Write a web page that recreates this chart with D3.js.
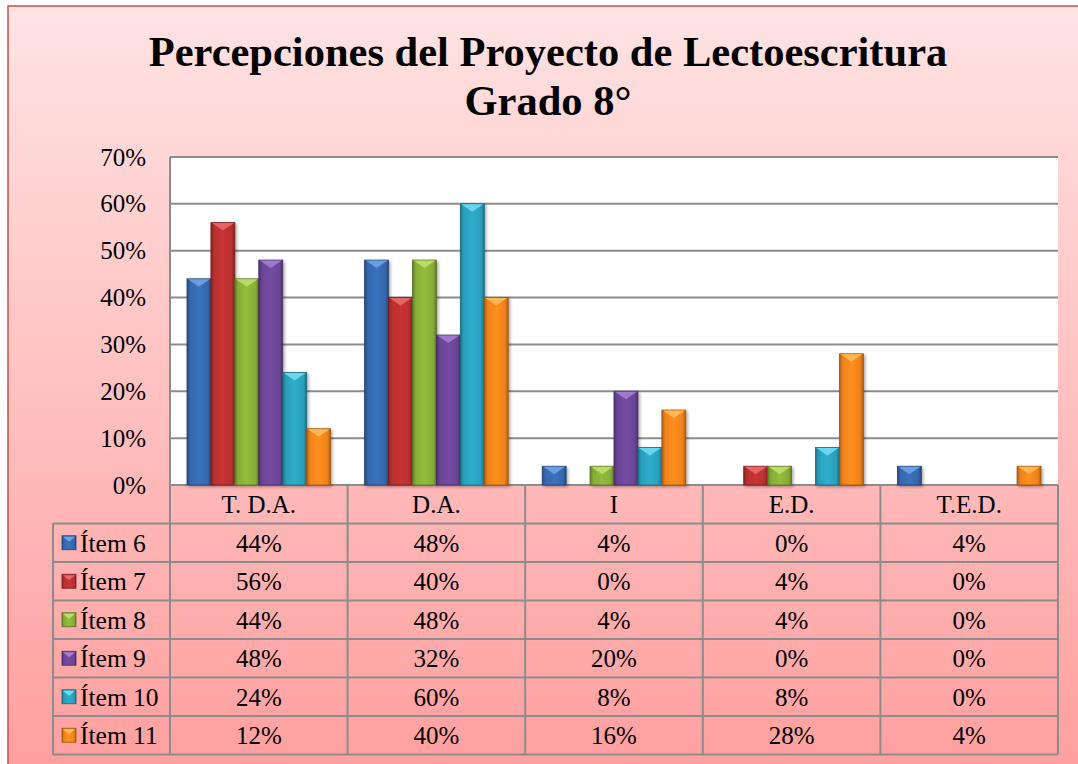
<!DOCTYPE html>
<html>
<head>
<meta charset="utf-8">
<script src="https://cdn.jsdelivr.net/npm/d3@7"></script>
<style>
  body { margin: 0; background: #fff; }
  svg { display: block; font-family: "Liberation Serif", "Times New Roman", serif; }
</style>
</head>
<body>
<svg id="chart" width="1078" height="764"></svg>
<script>
// categories and series
var categories = ["T. D.A.", "D.A.", "I", "E.D.", "T.E.D."];
var seriesNames = ["Ítem 6", "Ítem 7", "Ítem 8", "Ítem 9", "Ítem 10", "Ítem 11"];
var item6 = [0.44, 0.48, 0.04, 0.00, 0.04];
var item7 = [0.56, 0.40, 0.00, 0.04, 0.00];
var item8 = [0.44, 0.48, 0.04, 0.04, 0.00];
var item9 = [0.48, 0.32, 0.20, 0.00, 0.00];
var item10 = [0.24, 0.60, 0.08, 0.08, 0.00];
var item11 = [0.12, 0.40, 0.16, 0.28, 0.04];
var yTicks = [0, 0.1, 0.2, 0.3, 0.4, 0.5, 0.6, 0.7];

var seriesValues = [item6, item7, item8, item9, item10, item11];
var colors = ["#3567ae", "#b8302f", "#86ad37", "#6a4595", "#2a9fbb", "#ee821b"];
var lights = ["#6fa3e8", "#e86a6a", "#bde06a", "#a27fd0", "#6fdcf2", "#ffbc5a"];

var svg = d3.select("#chart");
var W = 1078, H = 764;

var defs = svg.append("defs");
var bg = defs.append("linearGradient").attr("id", "bg")
  .attr("x1", 0).attr("y1", 0).attr("x2", 0).attr("y2", 1);
bg.append("stop").attr("offset", "0%").attr("stop-color", "#ffe3e3");
bg.append("stop").attr("offset", "100%").attr("stop-color", "#ff9f9f");

var shadow = defs.append("filter").attr("id", "shadow")
  .attr("x", "-30%").attr("y", "-10%").attr("width", "160%").attr("height", "130%");
shadow.append("feDropShadow").attr("dx", 1.5).attr("dy", 1.5).attr("stdDeviation", 1.5)
  .attr("flood-color", "#000").attr("flood-opacity", 0.35);

// one horizontal gradient per colour for the rounded bevel look
colors.forEach(function(c, i) {
  var g = defs.append("linearGradient").attr("id", "bar" + i)
    .attr("x1", 0).attr("y1", 0).attr("x2", 1).attr("y2", 0);
  var dark = d3.color(c).darker(0.9);
  var lite = d3.color(c).brighter(0.25);
  g.append("stop").attr("offset", "0%").attr("stop-color", dark);
  g.append("stop").attr("offset", "14%").attr("stop-color", c);
  g.append("stop").attr("offset", "50%").attr("stop-color", lite);
  g.append("stop").attr("offset", "86%").attr("stop-color", c);
  g.append("stop").attr("offset", "100%").attr("stop-color", dark);
});

// chart area background + border
svg.append("rect")
  .attr("x", 8).attr("y", 6).attr("width", W).attr("height", H)
  .attr("fill", "url(#bg)")
  .attr("stroke", "#c0504d").attr("stroke-width", 1.5);

// title
var title = svg.append("text")
  .attr("text-anchor", "middle")
  .attr("font-weight", "bold")
  .attr("font-size", 42.5)
  .attr("fill", "#000");
title.append("tspan").attr("x", 548).attr("y", 66).text("Percepciones del Proyecto de Lectoescritura");
title.append("tspan").attr("x", 548).attr("y", 115).text("Grado 8°");

// scales
var plotLeft = 170, plotRight = 1058, plotTop = 157, plotBottom = 485;
var x = d3.scaleBand().domain(categories).range([plotLeft, plotRight]);
var xs = d3.scaleBand().domain(seriesNames).range([17, x.bandwidth() - 17]);
var y = d3.scaleLinear().domain([0, 0.7]).range([plotBottom, plotTop]);

// plot area
svg.append("rect")
  .attr("x", plotLeft).attr("y", plotTop)
  .attr("width", plotRight - plotLeft).attr("height", plotBottom - plotTop)
  .attr("fill", "#fff");

svg.append("g").selectAll("line")
  .data(yTicks)
  .enter().append("line")
  .attr("x1", plotLeft).attr("x2", plotRight)
  .attr("y1", function(d) { return y(d); })
  .attr("y2", function(d) { return y(d); })
  .attr("stroke", "#8c8c8c").attr("stroke-width", 2);

svg.append("line")
  .attr("x1", plotLeft).attr("x2", plotLeft).attr("y1", plotTop).attr("y2", plotBottom)
  .attr("stroke", "#8c8c8c").attr("stroke-width", 2);

// y axis labels
var yAxis = d3.axisLeft(y).tickValues(yTicks).tickFormat(d3.format(".0%")).tickSize(0).tickPadding(24);
var ya = svg.append("g").attr("transform", "translate(" + plotLeft + ",0)").call(yAxis);
ya.select(".domain").remove();
ya.selectAll("text")
  .attr("font-family", "Liberation Serif, serif")
  .attr("font-size", 25)
  .attr("fill", "#000");

// bars
var groups = svg.append("g").selectAll("g")
  .data(seriesValues)
  .enter().append("g");

groups.each(function(vals, si) {
  var g = d3.select(this);
  vals.forEach(function(v, ci) {
    if (v <= 0) return;
    var bx = x(categories[ci]) + xs(seriesNames[si]);
    var bw = xs.bandwidth();
    var by = y(v);
    var bh = y(0) - by;
    g.append("rect")
      .attr("x", bx).attr("y", by).attr("width", bw).attr("height", bh)
      .attr("fill", "url(#bar" + si + ")")
      .attr("stroke", d3.color(colors[si]).darker(1.2))
      .attr("stroke-width", 0.8)
      .attr("filter", "url(#shadow)");
    var tri = Math.min(8, bh);
    g.append("path")
      .attr("d", "M" + (bx + 1) + "," + (by + 0.5) + "L" + (bx + bw - 1) + "," + (by + 0.5) +
        "L" + (bx + bw / 2) + "," + (by + tri) + "Z")
      .attr("fill", lights[si]).attr("opacity", 0.9);
  });
});

// data table
var headTop = plotBottom, rowH = 38.5;
var tableLeft = 53;
var gridColor = "#8c8c8c";
var table = svg.append("g");

// header cells
table.selectAll("text.cat")
  .data(categories)
  .enter().append("text")
  .attr("class", "cat")
  .attr("x", function(d) { return x(d) + x.bandwidth() / 2; })
  .attr("y", headTop + rowH / 2 + 9)
  .attr("text-anchor", "middle")
  .attr("font-size", 25)
  .text(function(d) { return d; });

// rows
seriesNames.forEach(function(name, si) {
  var ry = headTop + rowH * (si + 1);
  var cy = ry + rowH / 2;
  // legend key
  var kx = 62, ky = cy - 7, ks = 14;
  table.append("rect")
    .attr("x", kx).attr("y", ky).attr("width", ks).attr("height", ks)
    .attr("fill", "url(#bar" + si + ")")
    .attr("stroke", d3.color(colors[si]).darker(1.2)).attr("stroke-width", 0.8);
  table.append("path")
    .attr("d", "M" + (kx + 1) + "," + (ky + 1) + "L" + (kx + ks - 1) + "," + (ky + 1) +
      "L" + (kx + ks / 2) + "," + (ky + 6) + "Z")
    .attr("fill", lights[si]);
  table.append("text")
    .attr("x", 80).attr("y", cy + 9)
    .attr("font-size", 25.5)
    .text(name);
  table.selectAll(null)
    .data(seriesValues[si])
    .enter().append("text")
    .attr("x", function(d, ci) { return x(categories[ci]) + x.bandwidth() / 2; })
    .attr("y", cy + 9)
    .attr("text-anchor", "middle")
    .attr("font-size", 25)
    .text(function(d) { return d3.format(".0%")(d); });
});

// table grid lines
var tableBottom = headTop + rowH * (seriesNames.length + 1);
for (var r = 1; r <= seriesNames.length + 1; r++) {
  table.append("line")
    .attr("x1", tableLeft).attr("x2", plotRight)
    .attr("y1", headTop + rowH * r).attr("y2", headTop + rowH * r)
    .attr("stroke", gridColor).attr("stroke-width", 2);
}
table.append("line")
  .attr("x1", tableLeft).attr("x2", tableLeft)
  .attr("y1", headTop + rowH).attr("y2", tableBottom)
  .attr("stroke", gridColor).attr("stroke-width", 2);
var colEdges = categories.map(function(c) { return x(c); }).concat([plotRight]);
colEdges.forEach(function(cx) {
  table.append("line")
    .attr("x1", cx).attr("x2", cx)
    .attr("y1", headTop).attr("y2", tableBottom)
    .attr("stroke", gridColor).attr("stroke-width", 2);
});
</script>
</body>
</html>
